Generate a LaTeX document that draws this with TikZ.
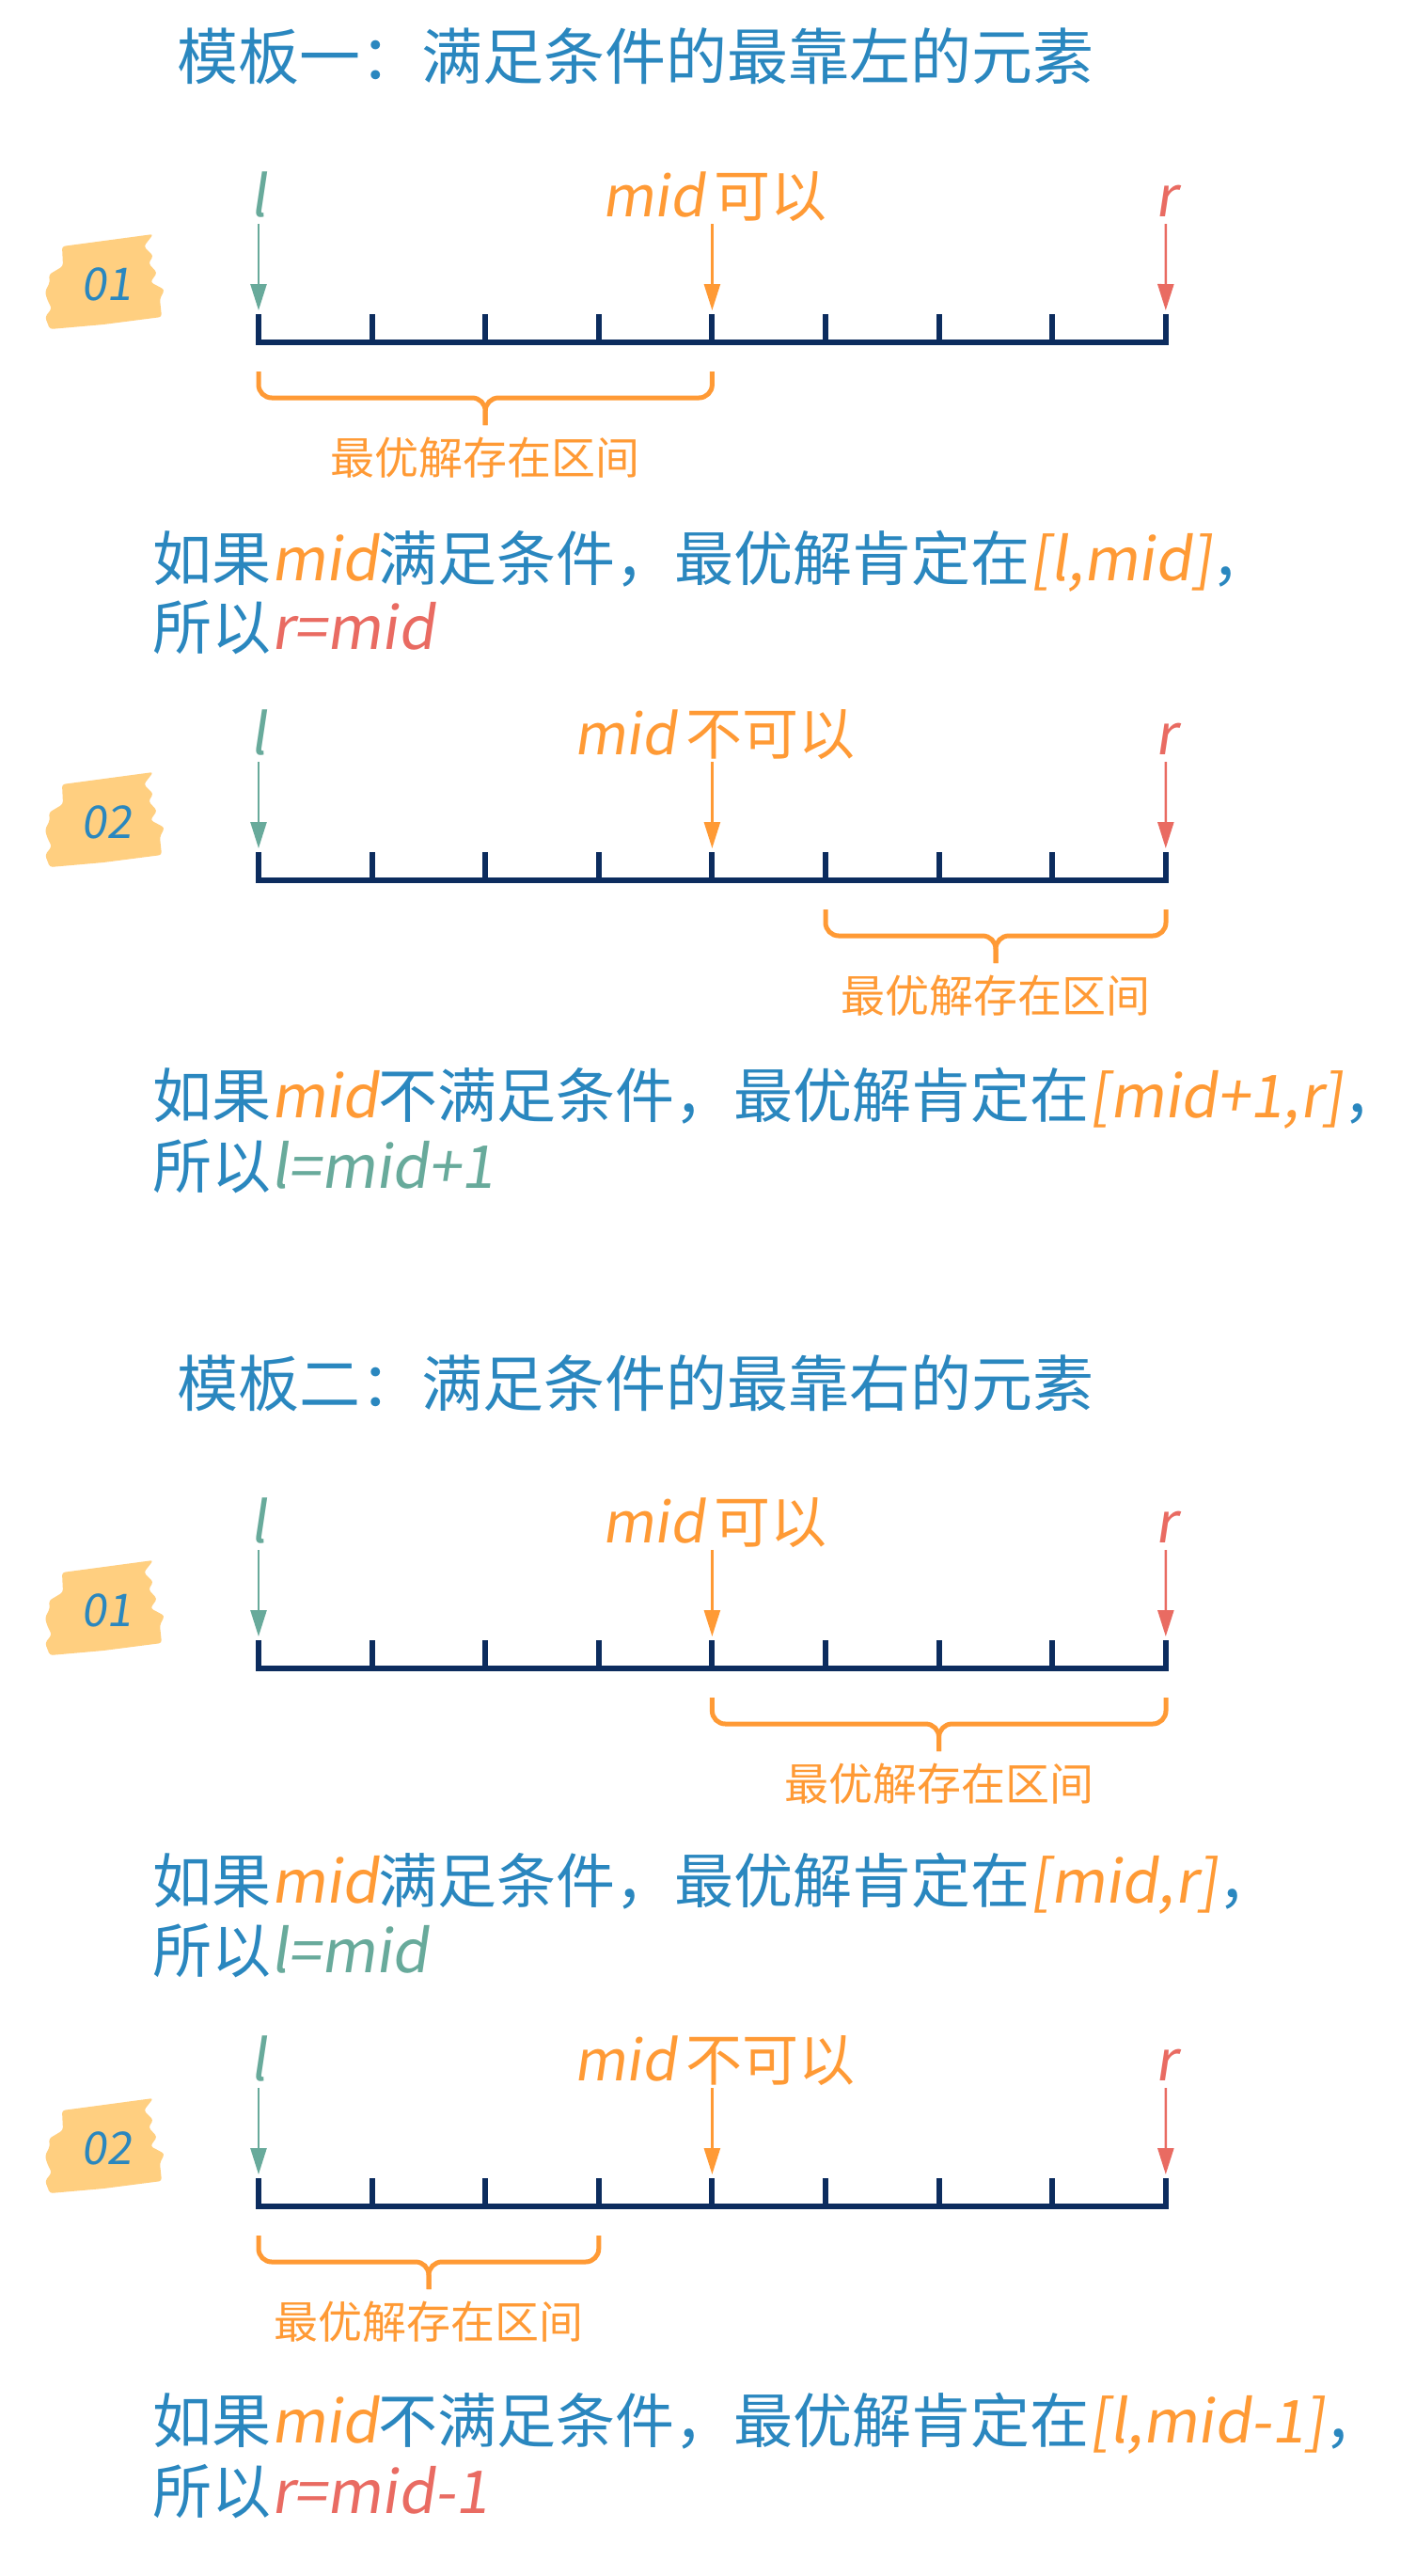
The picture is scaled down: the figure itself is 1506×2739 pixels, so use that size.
\documentclass[tikz,border=0pt]{standalone}
\usepackage{fontspec}
\setmainfont{Noto Sans CJK SC}
\newfontfamily\hand[FakeSlant=0.15]{Noto Sans CJK SC}
\usetikzlibrary{arrows.meta}
\definecolor{inkblue}{HTML}{2A87BF}
\definecolor{inkorange}{HTML}{FF9A35}
\definecolor{inkgreen}{HTML}{68AA9B}
\definecolor{inkred}{HTML}{E96B62}
\definecolor{inknavy}{HTML}{0C2C5E}
\definecolor{inkyellow}{HTML}{FFCF80}
\newcommand\tint[2]{{\color{#1}\hand #2}}

\begin{document}
\begin{tikzpicture}[x=1pt,y=-1pt]
      \tikzstyle{every node}=[inner sep=0pt,text=inkblue]
      \tikzstyle{heading}=[font=\fontsize{65}{70}\selectfont,anchor=west]
      \tikzstyle{tag}=[font=\fontsize{60}{64}\selectfont,text height=53pt,text depth=7pt]
      \tikzstyle{pointer}=[line width=2.5pt,-{Triangle[length=28pt,width=17pt]},shorten >=4pt,shorten <=1pt]
      \tikzstyle{ruler}=[line width=6pt,draw=inknavy,line cap=rect]
      \tikzstyle{span}=[line width=5pt,draw=inkorange,rounded corners=14pt]
      \tikzstyle{spanlabel}=[font=\fontsize{47}{50}\selectfont,text=inkorange]
      \tikzstyle{remark}=[font=\fontsize{63}{66}\selectfont,anchor=west,text height=55pt,text depth=8pt]
      \tikzstyle{patch}=[fill=inkyellow,rounded corners=3pt]
      \fill[white] (0,0) rectangle (1506,2739);

      \node[heading] (title1) at (188,60) {模板一：满足条件的最靠左的元素};
      \node[heading] (title2) at (188,1471) {模板二：满足条件的最靠右的元素};

      \foreach \b/\dy/\num/\verdict in {a/0/01/可以,b/572/02/不可以,c/1410/01/可以,d/1982/02/不可以}{
        \begin{scope}[yshift=-\dy pt]
          \fill[patch] (66,262) -- (163,249) -- (153,262) -- (163,272) -- (158,280) -- (167,290)
            -- (160,300) -- (175,308) -- (170,318) -- (172,337) -- (110,345) -- (53,350) -- (48,337)
            -- (55,328) -- (50,318) -- (48,310) -- (53,300) -- (52,292) -- (67,283) -- cycle;
          \node[font=\hand\fontsize{48}{48}\selectfont] (\b-badge) at (113,302) {\num};
          \node[tag,text=inkgreen] (\b-l) at (275,207) {\hand l};
          \node[tag,text=inkorange] (\b-mid) at (760,207) {\hand mid\,\rmfamily\verdict};
          \node[tag,text=inkred] (\b-r) at (1240,207) {\hand r};
          \foreach \i in {0,...,8} \coordinate (\b-t\i) at (275+120.6*\i,334);
          \draw[ruler] (275,364) -- (1240,364);
          \foreach \i in {0,...,8} \draw[ruler] (\b-t\i) ++(0,3) -- ++(0,27);
          \draw[pointer,draw=inkgreen,fill=inkgreen] (\b-l) -- (\b-t0);
          \draw[pointer,draw=inkorange,fill=inkorange] (\b-mid.south -| \b-t4) -- (\b-t4);
          \draw[pointer,draw=inkred,fill=inkred] (\b-r) -- (\b-t8);
        \end{scope}
      }

      % where the answer must lie
      \draw[span] (275,395) -- (275,423) -- (516.2,423) -- (516.2,452);
      \draw[span] (757.4,395) -- (757.4,423) -- (516.2,423) -- (516.2,452);
      \node[spanlabel] (a-span) at (516.2,487) {最优解存在区间};
      \draw[span] (878,967) -- (878,995) -- (1059,995) -- (1059,1024);
      \draw[span] (1240,967) -- (1240,995) -- (1059,995) -- (1059,1024);
      \node[spanlabel] (b-span) at (1059,1059) {最优解存在区间};
      \draw[span] (757.4,1805) -- (757.4,1833) -- (998.6,1833) -- (998.6,1862);
      \draw[span] (1240,1805) -- (1240,1833) -- (998.6,1833) -- (998.6,1862);
      \node[spanlabel] (c-span) at (998.6,1897) {最优解存在区间};
      \draw[span] (275,2377) -- (275,2405) -- (456,2405) -- (456,2434);
      \draw[span] (636.8,2377) -- (636.8,2405) -- (456,2405) -- (456,2434);
      \node[spanlabel] (d-span) at (456,2469) {最优解存在区间};

      \node[remark] (a-if) at (162,594) {如果\tint{inkorange}{mid}满足条件，最优解肯定在\tint{inkorange}{[l,mid]}，};
      \node[remark] (a-so) at (162,667) {所以\tint{inkred}{r=mid}};
      \node[remark] (b-if) at (162,1165) {如果\tint{inkorange}{mid}不满足条件，最优解肯定在\tint{inkorange}{[mid+1,r]}，};
      \node[remark] (b-so) at (162,1240) {所以\tint{inkgreen}{l=mid+1}};
      \node[remark] (c-if) at (162,2000) {如果\tint{inkorange}{mid}满足条件，最优解肯定在\tint{inkorange}{[mid,r]}，};
      \node[remark] (c-so) at (162,2074) {所以\tint{inkgreen}{l=mid}};
      \node[remark] (d-if) at (162,2574) {如果\tint{inkorange}{mid}不满足条件，最优解肯定在\tint{inkorange}{[l,mid-1]}，};
      \node[remark] (d-so) at (162,2649) {所以\tint{inkred}{r=mid-1}};
\end{tikzpicture}
\end{document}
